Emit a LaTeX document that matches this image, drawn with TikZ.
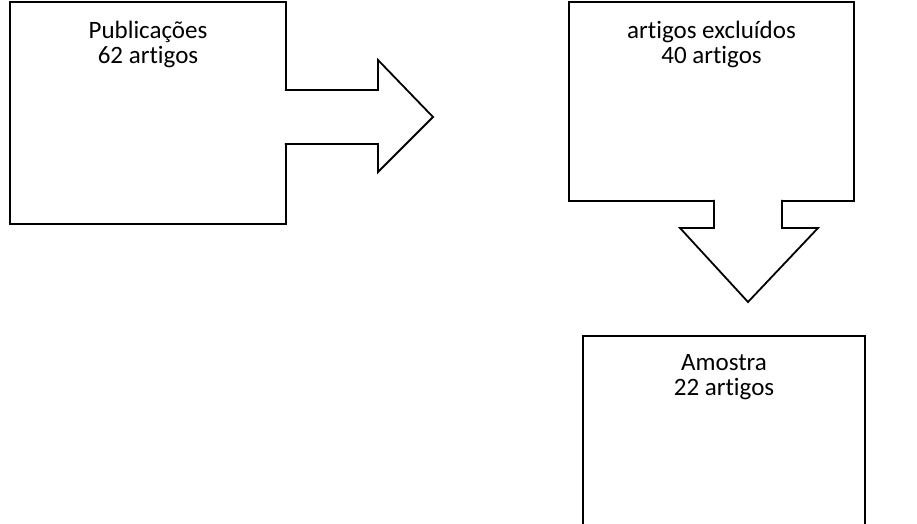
\documentclass[tikz,border=0pt]{standalone}
\usepackage{fontspec}
\setmainfont{Carlito}[RawFeature={-liga}]
\usetikzlibrary{positioning,calc}

\begin{document}
\begin{tikzpicture}[x=1pt, y=-1pt, line width=1.8pt, line join=miter,
      b/.style={draw, inner sep=0pt, outer sep=0pt},
      t/.style={align=center, inner sep=0pt, font=\fontsize{25}{25}\selectfont}]
      \useasboundingbox (0,0) rectangle (917,523);
      \clip (0,0) rectangle (917,523);
      \node[b, minimum width=276pt, minimum height=222pt] (pub) at (148,113) {};
      \node[b, minimum width=285pt, minimum height=199pt] (exc) at (711.5,101.5) {};
      \node[b, minimum width=282pt, minimum height=230pt] (amo) at (724,451) {};
      \node[t, below=18pt of pub.north] (tpub) {Publicações\\62 artigos};
      \node[t, below=18pt of exc.north] (texc) {artigos excluídos\\40 artigos};
      \node[t, below=18pt of amo.north] (tamo) {Amostra\\22 artigos};
      % block arrows, open at the back so the box edge is wiped
      \coordinate (tip1) at (433,117);
      \coordinate (tip2) at (748,302);
      \draw[fill=white] ($(pub.east)+(-1.2,-23)$) -- (378,90) -- (378,60) -- (tip1)
            -- (378,172) -- (378,144) -- ($(pub.east)+(-1.2,31)$);
      \draw[fill=white] ($(exc.south)+(2.5,-1.2)$) -- (714,228) -- (680,228) -- (tip2)
            -- (818,228) -- (782,228) -- ($(exc.south)+(70.5,-1.2)$);
    \end{tikzpicture}
\end{document}
